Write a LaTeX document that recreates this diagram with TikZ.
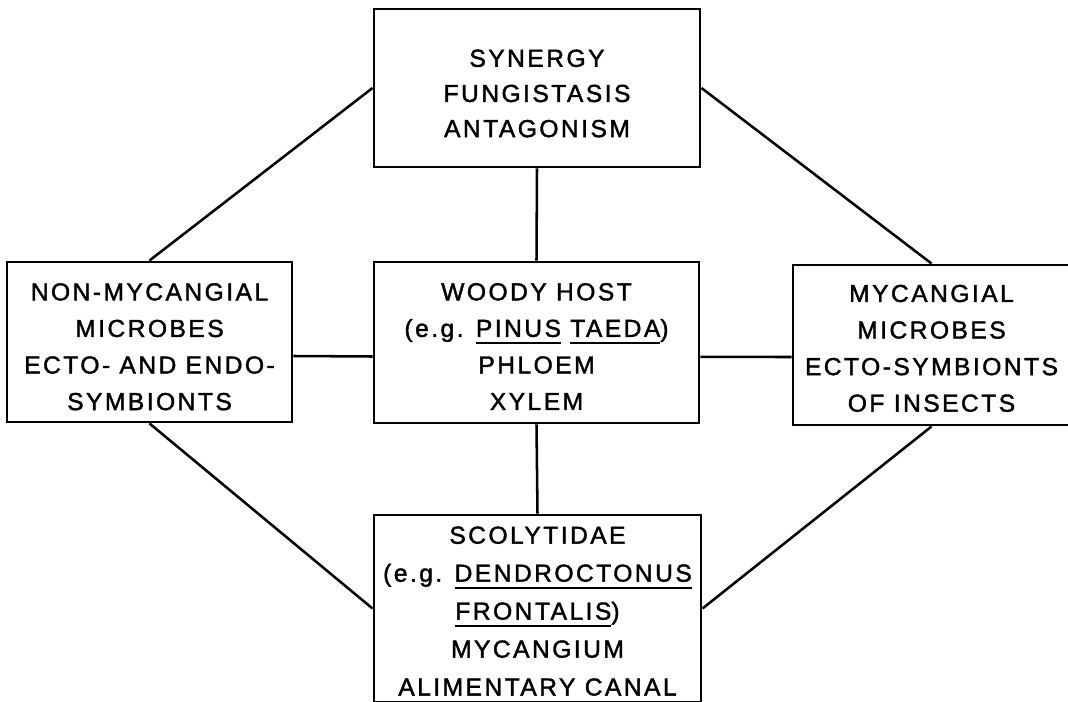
\documentclass[tikz,border=0pt]{standalone}
\usepackage{fontspec}
\setmainfont{Liberation Sans}[LetterSpace=10, FakeBold=1.6]

% underlined species names, rule set well below the caps
\newcommand\taxon[1]{\sbox0{#1}\rlap{\rule[-5pt]{\wd0}{1.4pt}}\usebox0}

\begin{document}
\begin{tikzpicture}[x=0.025cm, y=-0.025cm,
  box/.style={draw, line width=2.1pt, inner sep=0pt, align=center,
    font=\fontsize{17.5}{26}\selectfont},
  link/.style={line width=1.8pt}]

  % Size settings (one unit = one pixel of the page)
  \def\px{0.025cm}
  \useasboundingbox (0,0) rectangle (1068,702);

  % The five boxes
  \node[box, minimum width=326*\px, minimum height=158*\px,
    font=\fontsize{17.5}{25}\selectfont] (interact) at (537,88)
    {\rule{0pt}{20pt}SYNERGY\\FUNGISTASIS\\ANTAGONISM};
  \node[box, minimum width=285*\px, minimum height=160*\px] (nonmyc) at (149.5,342)
    {\rule{0pt}{19pt}NON-MYCANGIAL\\MICROBES\\ECTO- AND ENDO-\\SYMBIONTS};
  \node[box, minimum width=325*\px, minimum height=161*\px] (host) at (536.5,342.5)
    {\rule{0pt}{18pt}WOODY HOST\\(e.g. \taxon{PINUS} \taxon{TAEDA})\\PHLOEM\\XYLEM};
  \node[box, minimum width=277*\px, minimum height=160*\px] (myc) at (931.5,345)
    {\rule{0pt}{17pt}MYCANGIAL\\MICROBES\\ECTO-SYMBIONTS\\OF INSECTS};
  \node[box, minimum width=327*\px, minimum height=187*\px,
    font=\fontsize{17.5}{27}\selectfont] (beetle) at (537.5,608.5)
    {\rule{0pt}{16pt}SCOLYTIDAE\\(e.g. \taxon{DENDROCTONUS}\\\taxon{FRONTALIS})\\MYCANGIUM\\ALIMENTARY CANAL};

  % Links to the host
  \draw[link] (interact.south) -- (host.north);
  \draw[link] (host.south) -- (beetle.north);
  \draw[link] ([yshift=-0.35cm]nonmyc.east) -- ([yshift=-0.35cm]host.west);
  \draw[link] ([yshift=-0.36cm]host.east) -- ([yshift=-0.3cm]myc.west);

  % Outer diamond
  \draw[link] (interact.west) -- (nonmyc.north);
  \draw[link] (interact.east) -- (myc.north);
  \draw[link] (nonmyc.south) -- (beetle.west);
  \draw[link] (myc.south) -- (beetle.east);

\end{tikzpicture}
\end{document}
